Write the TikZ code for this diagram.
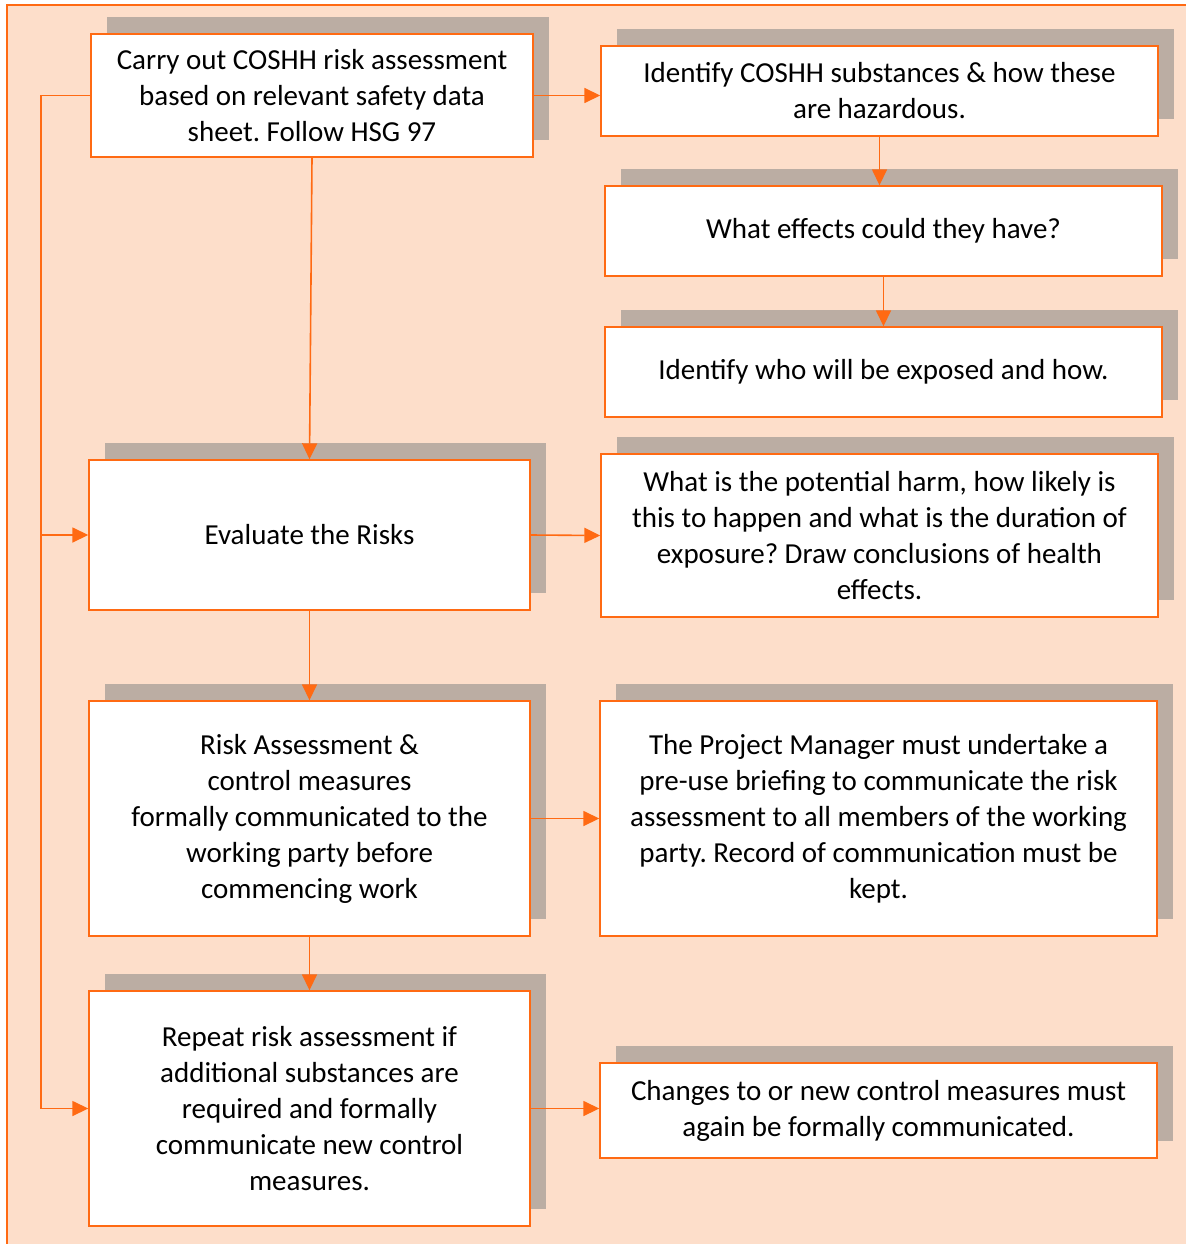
\documentclass[tikz,border=0pt]{standalone}
\usepackage{fontspec}
\setmainfont{Carlito}
\usetikzlibrary{shadows,arrows.meta}
\definecolor{peach}{RGB}{253,222,202}
\definecolor{flow}{RGB}{255,106,19}
\definecolor{shade}{RGB}{187,173,163}
\frenchspacing
\begin{document}
\begin{tikzpicture}[x=1pt,y=-1pt,
  stepbox/.style={draw=flow, line width=1.4pt, fill=white, align=center,
    inner sep=0pt, text=black, font=\fontsize{29}{36}\selectfont,
    drop shadow={shadow xshift=16pt, shadow yshift=17pt, fill=shade, opacity=1}},
  link/.style={draw=flow, line width=1.6pt, -{Triangle[length=16pt,width=15pt]}}]

% page and panel
\useasboundingbox (0,0) rectangle (1186,1244);
\fill[peach] (7,5) rectangle (1186,1244);
\draw[flow, line width=1.6pt] (7,1244) -- (7,5) -- (1186,5);

% left column
\node[stepbox, minimum width=442pt, minimum height=123pt] (b1) at (312,95.5)
  {Carry out COSHH risk assessment\\based on relevant safety data\\sheet. Follow HSG 97};
\node[stepbox, minimum width=441pt, minimum height=150pt] (b5) at (309.5,535)
  {Evaluate the Risks};
\node[stepbox, minimum width=441pt, minimum height=235pt] (b7) at (309.5,818.5)
  {Risk Assessment \&\\control measures\\formally communicated to the\\working party before\\commencing work};
\node[stepbox, minimum width=441pt, minimum height=235pt] (b9) at (309.5,1108.5)
  {Repeat risk assessment if\\additional substances are\\required and formally\\communicate new control\\measures.};

% right column
\node[stepbox, minimum width=557pt, minimum height=90pt] (b2) at (879.5,91)
  {Identify COSHH substances \& how these\\are hazardous.};
\node[stepbox, minimum width=557pt, minimum height=90pt] (b3) at (883.5,231)
  {What effects could they have?};
\node[stepbox, minimum width=557pt, minimum height=90pt] (b4) at (883.5,372)
  {Identify who will be exposed and how.};
\node[stepbox, minimum width=557pt, minimum height=163pt] (b6) at (879.5,535.5)
  {What is the potential harm, how likely is\\this to happen and what is the duration of\\exposure? Draw conclusions of health\\effects.};
\node[stepbox, minimum width=557pt, minimum height=235pt] (b8) at (878.5,818.5)
  {The Project Manager must undertake a\\pre-use briefing to communicate the risk\\assessment to all members of the working\\party. Record of communication must be\\kept.};
\node[stepbox, minimum width=557pt, minimum height=95pt] (b10) at (878.5,1110.5)
  {Changes to or new control measures must\\again be formally communicated.};

% connectors
\coordinate (rail) at (41,0);
\draw[link] (b1.east) -- (b1.east -| b2.west);
\draw[link] (b2.south) -- (b2.south |- b3.north);
\draw[link] (b3.south) -- (b4.north);
\draw[link] (b1.south) -- (b5.north);
\draw[link] (b5.east) -- (b6.west);
\draw[link] (b5.south) -- (b7.north);
\draw[link] (b7.east) -- (b8.west);
\draw[link] (b7.south) -- (b9.north);
\draw[link] (b9.east) -- (b9.east -| b10.west);
\draw[link] (b1.west) -- (b1.west -| rail) |- (b9.west);
\draw[link] (b5.west -| rail) -- (b5.west);
\end{tikzpicture}
\end{document}
